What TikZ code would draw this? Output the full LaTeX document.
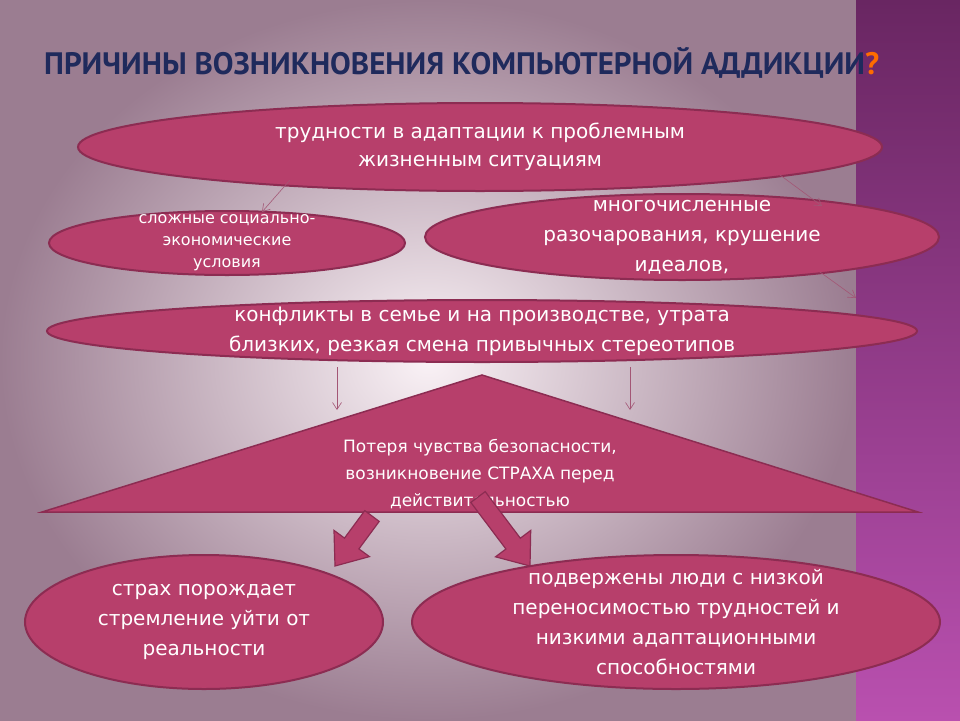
\documentclass[tikz,border=0pt]{standalone}
\usepackage{fontspec}
\setmainfont{DejaVu Sans}
\newfontfamily\titlefont{PT Sans}
\usetikzlibrary{shapes.geometric,arrows.meta}
\definecolor{fillc}{HTML}{B73F6B}
\definecolor{edgec}{HTML}{8C2C52}
\definecolor{navy}{HTML}{1F2A5C}
\tikzset{
 ell/.style={ellipse,fill=fillc,draw=edgec,line width=2pt,inner sep=0pt},
 txt/.style={text=white,align=center,inner sep=0pt},
 thin/.style={draw=edgec!80,line width=0.6pt,-{Straight Barb[length=7pt,width=9pt]}},
 blk/.style={fill=fillc,draw=edgec,line width=1.2pt},
}
\begin{document}
\begin{tikzpicture}[x=1pt,y=-1pt]
\useasboundingbox (0,0) rectangle (960,720);
\shade[inner color={rgb,255:red,250;green,242;blue,246},outer color={rgb,255:red,155;green,125;blue,145}] (0,0) rectangle (856,720);
\shade[top color={rgb,255:red,105;green,38;blue,98},bottom color={rgb,255:red,185;green,80;blue,175}] (856,0) rectangle (960,720);
\node[anchor=west,inner sep=0pt,font=\titlefont\bfseries\fontsize{31}{31}\selectfont,text=navy] (title) at (44,63) {ПРИЧИНЫ ВОЗНИКНОВЕНИЯ КОМПЬЮТЕРНОЙ АДДИКЦИИ\textcolor{orange!85!red}{?}};
\node[ell,minimum width=804,minimum height=88] (e1) at (480,147) {};
\node[txt,font=\fontsize{20}{28}\selectfont] at (e1.center) {трудности в адаптации к проблемным\\жизненным ситуациям};
\node[ell,minimum width=356,minimum height=64] (e2) at (227,243) {};
\node[txt,font=\fontsize{16}{22}\selectfont] at (e2.center) {сложные социально-\\экономические\\условия};
\node[ell,minimum width=514,minimum height=86] (e3) at (682,237) {};
\node[txt,font=\fontsize{20}{30}\selectfont] at (e3.center) {многочисленные\\разочарования, крушение\\идеалов,};
\node[ell,minimum width=870,minimum height=62] (e4) at (482,331) {};
\node[txt,font=\fontsize{20}{30}\selectfont] at (e4.center) {конфликты в семье и на производстве, утрата\\близких, резкая смена привычных стереотипов};
\coordinate (a1) at (290,180); \coordinate (b1) at (262,212);
\coordinate (a2) at (780,175); \coordinate (b2) at (822,206);
\coordinate (a3) at (820,272); \coordinate (b3) at (856,298);
\coordinate (a4) at (337,367); \coordinate (b4) at (337,410);
\coordinate (a5) at (630,367); \coordinate (b5) at (630,410);
\draw[thin] (a1)--(b1); \draw[thin] (a2)--(b2); \draw[thin] (a3)--(b3);
\draw[thin] (a4)--(b4); \draw[thin] (a5)--(b5);
\draw[fill=fillc,draw=edgec,line width=1.5pt] (482,375) -- (918,512) -- (42,512) -- cycle;
\node[txt,font=\fontsize{17}{27}\selectfont] (tri) at (480,474) {Потеря чувства безопасности,\\возникновение СТРАХА перед\\действительностью};
\draw[blk] (379.2,521.4) -- (358.9,548.9) -- (369.4,556.6) -- (335,566) -- (334,530.4) -- (344.5,538.1) -- (364.8,510.6) -- cycle;
\draw[blk] (485.2,491.6) -- (520.3,538.2) -- (530.7,530.4) -- (530,566) -- (495.5,556.8) -- (505.9,549) -- (470.8,502.4) -- cycle;
\node[ell,minimum width=358,minimum height=134] (e5) at (204,622) {};
\node[txt,font=\fontsize{20}{30}\selectfont] at (e5.center) {страх порождает\\стремление уйти от\\реальности};
\node[ell,minimum width=528,minimum height=134] (e6) at (676,622) {};
\node[txt,font=\fontsize{20}{30}\selectfont] at (e6.center) {подвержены люди с низкой\\переносимостью трудностей и\\низкими адаптационными\\способностями};
\end{tikzpicture}
\end{document}
